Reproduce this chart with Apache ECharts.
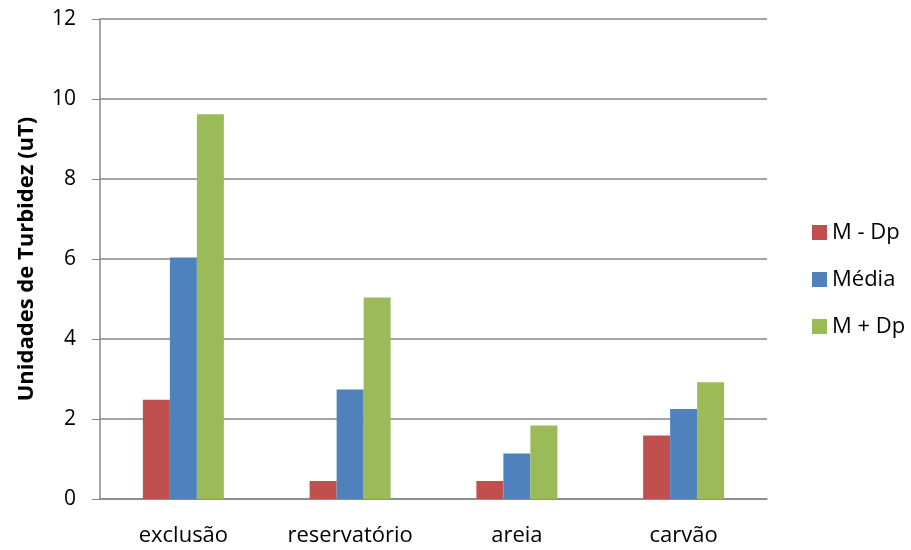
<!DOCTYPE html>
<html>
<head>
<meta charset="utf-8">
<script src="https://cdn.jsdelivr.net/npm/echarts@6/dist/echarts.min.js"></script>
<style>
    html, body { margin: 0; padding: 0; background: #fff; }
    #chart { width: 911px; height: 550px; }
</style>
</head>
<body>
<div id="chart"></div>
<script>
    // dados
    var categorias = ['exclusão', 'reservatório', 'areia', 'carvão'];
    var mMenosDp = [2.48, 0.45, 0.45, 1.59];
    var media = [6.04, 2.74, 1.14, 2.25];
    var mMaisDp = [9.62, 5.04, 1.84, 2.92];
    var yTicks = [0, 2, 4, 6, 8, 10, 12];

    var fonte = '"Open Sans", "Liberation Sans", sans-serif';

    var myChart = echarts.init(document.getElementById('chart'));
    var option = {
        animation: false,
        textStyle: { fontFamily: fonte },
        grid: { left: 100, right: 144, top: 19, bottom: 51, containLabel: false },
        legend: {
            orient: 'vertical',
            left: 807,
            top: 215,
            itemWidth: 15,
            itemHeight: 15,
            itemGap: 22,
            itemTextGap: 8,
            icon: 'rect',
            textStyle: { fontSize: 22, color: '#000', fontFamily: fonte, lineHeight: 25 },
            data: ['M - Dp', 'Média', 'M + Dp']
        },
        xAxis: {
            type: 'category',
            data: categorias,
            axisLine: { lineStyle: { color: '#868686', width: 1.5 } },
            axisTick: { show: false },
            axisLabel: { color: '#000', fontSize: 22, margin: 26, fontFamily: fonte }
        },
        yAxis: {
            type: 'value',
            min: yTicks[0],
            max: yTicks[yTicks.length - 1],
            interval: 2,
            name: 'Unidades de Turbidez (uT)',
            nameLocation: 'middle',
            nameGap: 62,
            nameRotate: 90,
            nameTextStyle: { fontSize: 22, fontWeight: 'bold', color: '#000', fontFamily: fonte },
            axisLine: { show: true, lineStyle: { color: '#868686', width: 1.5 } },
            axisTick: { show: true, inside: false, length: 8, lineStyle: { color: '#868686' } },
            axisLabel: { color: '#000', fontSize: 21, margin: 24, fontFamily: fonte },
            splitLine: { lineStyle: { color: '#868686', width: 1.5 } }
        },
        series: [
            {
                name: 'M - Dp', type: 'bar', data: mMenosDp,
                barWidth: 27, barGap: '0%',
                itemStyle: { color: '#C0504D' }
            },
            {
                name: 'Média', type: 'bar', data: media,
                barWidth: 27, barGap: '0%',
                itemStyle: { color: '#4F81BD' }
            },
            {
                name: 'M + Dp', type: 'bar', data: mMaisDp,
                barWidth: 27, barGap: '0%',
                itemStyle: { color: '#9BBB59' }
            }
        ]
    };
    myChart.setOption(option);
</script>
</body>
</html>
